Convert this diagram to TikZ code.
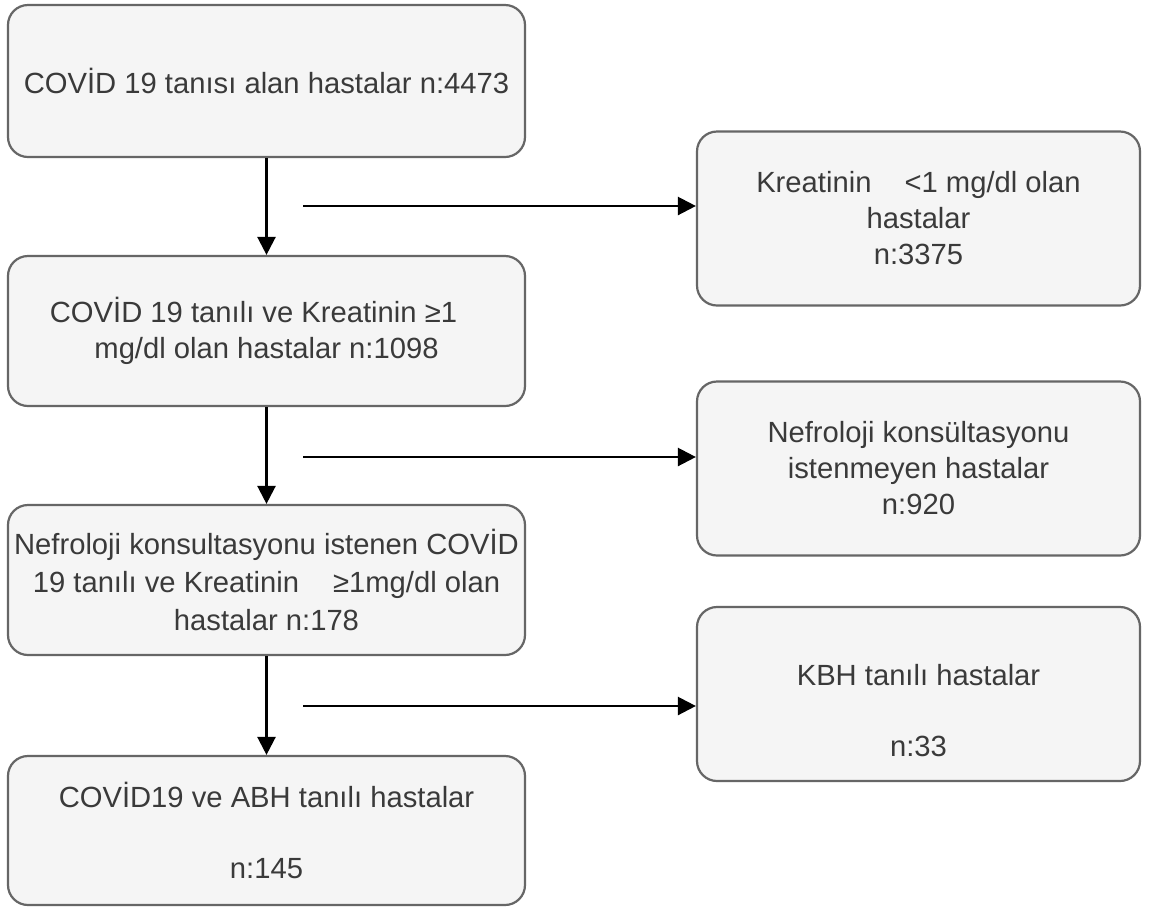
\documentclass[tikz,border=0pt]{standalone}
\usepackage{fontspec}
\setmainfont{Liberation Sans}
\usetikzlibrary{arrows.meta}
\definecolor{boxfill}{HTML}{F5F5F5}
\definecolor{boxline}{HTML}{666666}
\definecolor{txt}{HTML}{3A3A3A}
\begin{document}
\begin{tikzpicture}[x=0.5pt,y=-0.5pt,
  box/.style={draw=boxline, fill=boxfill, line width=1.1pt, rounded corners=10pt,
    inner sep=0pt, align=center, text=txt, font=\fontsize{14.6pt}{18pt}\selectfont},
  lbox/.style={box, minimum width=258.5pt, minimum height=75pt},
  rbox/.style={box, minimum width=221.5pt, minimum height=87pt},
  arr/.style={line width=1.2pt, -{Triangle[length=9pt,width=9pt]}}]
\useasboundingbox (0,0) rectangle (1152,907);
\fill[white] (0,0) rectangle (1152,907);

\node[lbox, minimum height=76pt] (a) at (266.5,81)
  {COVİD 19 tanısı alan hastalar n:4473};
\node[lbox] (b) at (266.5,331)
  {\hspace*{-13pt}COVİD 19 tanılı ve Kreatinin ≥1\\mg/dl olan hastalar n:1098};
\node[lbox] (c) at (266.5,580)
  {Nefroloji konsultasyonu istenen COVİD\\[1pt]19 tanılı ve Kreatinin\hspace{13pt} ≥1mg/dl olan\\[1pt]hastalar n:178};
\node[lbox, minimum height=74.5pt] (d) at (266.5,830.5)
  {COVİD19 ve ABH tanılı hastalar\\[17.5pt]n:145};

\node[rbox] (r1) at (918.5,218.5) {Kreatinin\hspace{12.5pt} <1 mg/dl olan\\hastalar\\n:3375};
\node[rbox] (r2) at (918.5,468.5) {Nefroloji konsültasyonu\\istenmeyen hastalar\\n:920};
\node[rbox] (r3) at (918.5,694) {\rule{0pt}{27pt}KBH tanılı hastalar\\[17.5pt]n:33};

\coordinate (h1) at (303,206);
\coordinate (h2) at (303,457);
\coordinate (h3) at (303,706);

\draw[arr] (a.south) -- (b.north);
\draw[arr] (b.south) -- (c.north);
\draw[arr] (c.south) -- (d.north);
\draw[arr] (h1) -- (h1 -| r1.west);
\draw[arr] (h2) -- (h2 -| r2.west);
\draw[arr] (h3) -- (h3 -| r3.west);
\end{tikzpicture}
\end{document}
